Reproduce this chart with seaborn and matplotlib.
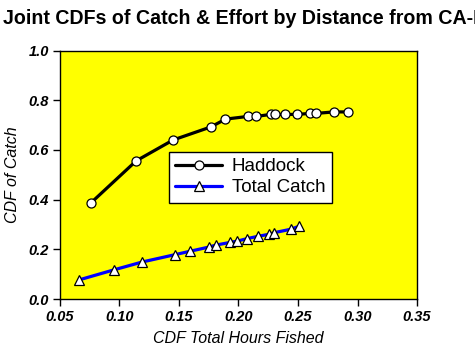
import matplotlib
matplotlib.use("Agg")
from matplotlib import pyplot as plt
import pandas as pd
import seaborn as sns

# values
haddock_x = [0.076, 0.114, 0.145, 0.177, 0.189, 0.208, 0.215, 0.227, 0.231,
             0.239, 0.249, 0.260, 0.265, 0.280, 0.292]
haddock_y = [0.387, 0.556, 0.640, 0.693, 0.724, 0.735, 0.735, 0.743, 0.743,
             0.743, 0.743, 0.747, 0.747, 0.753, 0.753]
total_x = [0.066, 0.095, 0.119, 0.147, 0.159, 0.175, 0.181, 0.193, 0.199,
           0.207, 0.216, 0.226, 0.230, 0.244, 0.251]
total_y = [0.077, 0.117, 0.149, 0.179, 0.192, 0.209, 0.217, 0.228, 0.233,
           0.243, 0.252, 0.261, 0.267, 0.281, 0.293]
x_ticks = [0.05, 0.10, 0.15, 0.20, 0.25, 0.30, 0.35]
y_ticks = [0.0, 0.2, 0.4, 0.6, 0.8, 1.0]

df_had = pd.DataFrame({"x": haddock_x, "y": haddock_y})
df_tot = pd.DataFrame({"x": total_x, "y": total_y})

sns.set_style("ticks")
plt.rcParams["font.family"] = ["Liberation Sans", "DejaVu Sans"]
plt.rcParams["text.color"] = "black"
plt.rcParams["axes.labelcolor"] = "black"
plt.rcParams["xtick.color"] = "black"
plt.rcParams["ytick.color"] = "black"

fig = plt.figure(figsize=(4.75, 3.56), dpi=100)
ax = fig.add_axes([0.1263, 0.160, 0.7516, 0.698])
ax.set_facecolor("#FFFF00")

# Haddock line
sns.lineplot(data=df_had, x="x", y="y", ax=ax, color="black", linewidth=2.3,
             marker="o", markersize=6.5, markerfacecolor="white",
             markeredgecolor="black", markeredgewidth=0.9, sort=False,
             estimator=None, label="Haddock")
# Total catch line
sns.lineplot(data=df_tot, x="x", y="y", ax=ax, color="#0000FF", linewidth=2.3,
             marker="^", markersize=7.5, markerfacecolor="white",
             markeredgecolor="black", markeredgewidth=0.9, sort=False,
             estimator=None, label="Total Catch")

ax.set_xlim(0.05, 0.35)
ax.set_ylim(0.0, 1.0)
ax.set_xticks(x_ticks)
ax.set_yticks(y_ticks)
ax.set_xticklabels([f"{t:.2f}" for t in x_ticks], fontsize=10.5,
                   fontweight="bold", fontstyle="italic")
ax.set_yticklabels([f"{t:.1f}" for t in y_ticks], fontsize=10.5,
                   fontweight="bold", fontstyle="italic")
ax.tick_params(direction="out", length=5, width=1, color="black", pad=3)
for s in ax.spines.values():
    s.set_visible(True)
    s.set_color("black")
    s.set_linewidth(1)

ax.set_xlabel("CDF Total Hours Fished", fontsize=11.5, fontstyle="italic",
              labelpad=5)
ax.set_ylabel("CDF of Catch", fontsize=11.5, fontstyle="italic", labelpad=6)

leg = ax.legend(loc="upper left", bbox_to_anchor=(0.305, 0.593), fontsize=13.5,
                frameon=True, fancybox=False, framealpha=1, edgecolor="black",
                handlelength=2.5, handletextpad=0.5, borderpad=0.35,
                labelspacing=0.2, borderaxespad=0)
leg.get_frame().set_linewidth(1)

# the title runs off the right edge in the original too
fig.text(0.006, 0.948, "Joint CDFs of Catch & Effort by Distance from CA-I",
         fontsize=14.1, fontweight="bold", ha="left", va="center")

fig.savefig("out.png", dpi=100)
